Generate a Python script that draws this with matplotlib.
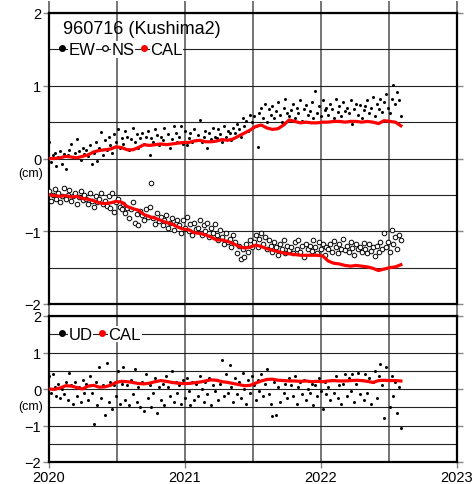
import numpy as np
import matplotlib

matplotlib.use("Agg")
from matplotlib import pyplot as plt
from matplotlib.lines import Line2D

plt.rcParams["font.family"] = ["Liberation Sans", "DejaVu Sans"]

station = "960716 (Kushima2)"

# daily solutions thinned to one every 5 days, CAL curve every 15 days
obs_step_days = 5
cal_step_days = 15

ew = [
    0.22, -0.05, 0.05, 0.08, -0.10, 0.02, 0.10, -0.08, 0.06, -0.15,
    0.05, 0.12, 0.20, 0.02, 0.08, 0.27, 0.10, -0.02, 0.15, 0.06,
    0.12, 0.03, 0.18, -0.07, 0.08, 0.22, -0.03, 0.15, 0.37, 0.05,
    0.25, 0.12, 0.30, 0.18, 0.08, 0.33, 0.22, 0.40, 0.15, 0.28,
    0.20, 0.38, 0.30, 0.12, 0.27, 0.42, 0.22, 0.33, 0.15, 0.28,
    0.35, 0.20, 0.30, 0.38, 0.05, 0.28, 0.22, 0.40, 0.32, 0.18,
    0.30, 0.25, 0.42, 0.20, 0.33, 0.15, 0.27, 0.45, 0.35, 0.22,
    0.30, 0.45, 0.20, 0.38, 0.18, 0.28, 0.35, 0.23, 0.40, 0.25,
    0.32, 0.53, 0.22, 0.30, 0.38, 0.15, 0.35, 0.27, 0.42, 0.30,
    0.28, 0.40, 0.33, 0.22, 0.45, 0.30, 0.38, 0.35, 0.25, 0.42,
    0.35, 0.48, 0.40, 0.30, 0.55, 0.45, 0.52, 0.38, 0.60, 0.50,
    0.58, 0.45, 0.16, 0.62, 0.70, 0.55, 0.75, 0.50, 0.68, 0.60,
    0.72, 0.55, 0.65, 0.78, 0.60, 0.50, 0.70, 0.82, 0.62, 0.58,
    0.66, 0.75, 0.55, 0.70, 0.62, 0.80, 0.52, 0.68, 0.73, 0.60,
    0.65, 0.78, 0.55, 0.93, 0.62, 0.72, 0.58, 0.80, 0.66, 0.70,
    0.60, 0.75, 0.68, 0.55, 0.82, 0.64, 0.72, 0.58, 0.78, 0.65,
    0.70, 0.62, 0.80, 0.47, 0.68, 0.75, 0.60, 0.73, 0.56, 0.66,
    0.72, 0.80, 0.62, 0.70, 0.85, 0.58, 0.75, 0.68, 0.82, 0.64,
    0.78, 0.88, 0.70, 0.62, 0.82, 1.01, 0.75, 0.92, 0.80, 0.58,
]

ns = [
    -0.45, -0.58, -0.50, -0.42, -0.55, -0.48, -0.60, -0.52, -0.40, -0.56,
    -0.50, -0.43, -0.58, -0.52, -0.47, -0.62, -0.53, -0.45, -0.57, -0.50,
    -0.55, -0.63, -0.48, -0.58, -0.66, -0.52, -0.60, -0.55, -0.47, -0.62,
    -0.58, -0.65, -0.52, -0.68, -0.48, -0.73, -0.60, -0.55, -0.66, -0.70,
    -0.62, -0.75, -0.68, -0.82, -0.70, -0.60, -0.88, -0.76, -0.92, -0.72,
    -0.78, -0.85, -0.70, -0.80, -0.66, -0.34, -0.82, -0.90, -0.75, -0.86,
    -0.80, -0.92, -0.85, -0.78, -0.95, -0.88, -0.82, -0.98, -0.90, -0.84,
    -0.92, -1.02, -0.85, -0.95, -0.80, -1.00, -0.90, -1.05, -0.88, -0.97,
    -0.95, -0.85, -1.05, -0.92, -1.00, -0.88, -1.08, -0.96, -1.02, -0.90,
    -1.05, -1.12, -0.98, -1.08, -1.18, -1.02, -1.15, -1.10, -1.22, -1.05,
    -1.15, -1.30, -1.20, -1.38, -1.25, -1.35, -1.18, -1.28, -1.12, -1.22,
    -1.15, -1.05, -1.22, -1.10, -1.02, -1.18, -1.08, -1.25, -1.12, -1.20,
    -1.28, -1.15, -1.22, -1.32, -1.18, -1.25, -1.12, -1.30, -1.20, -1.26,
    -1.22, -1.30, -1.15, -1.25, -1.12, -1.28, -1.20, -1.35, -1.18, -1.24,
    -1.20, -1.27, -1.12, -1.22, -1.30, -1.15, -1.25, -1.18, -1.32, -1.21,
    -1.25, -1.18, -1.28, -1.14, -1.22, -1.30, -1.17, -1.24, -1.10, -1.26,
    -1.20, -1.28, -1.15, -1.23, -1.32, -1.18, -1.25, -1.21, -1.29, -1.16,
    -1.24, -1.30, -1.18, -1.27, -1.22, -1.34, -1.20, -1.28, -1.15, -1.25,
    -1.02, -1.22, -1.15, -1.28, -0.98, -1.18, -1.08, -1.25, -1.05, -1.12,
]

ud = [
    0.35, -0.10, 0.40, 0.05, -0.20, 0.15, -0.25, 0.00, -0.15, 0.20,
    -0.30, 0.45, 0.10, -0.40, 0.20, -0.20, 0.05, -0.35, 0.25, -0.10,
    0.15, -0.30, 0.35, -0.10, -0.95, 0.20, -0.45, 0.60, -0.25, 0.10,
    -0.70, 0.70, -0.35, 0.20, -0.55, 0.10, -0.20, 0.50, -0.40, 0.15,
    0.60, -0.30, 0.10, -0.45, 0.25, -0.15, 0.55, -0.35, 0.05, -0.50,
    0.20, -0.60, 0.40, -0.25, 0.10, -0.50, -0.10, 0.30, -0.65, 0.05,
    -0.30, 0.15, -0.45, 0.35, 0.05, -0.20, 0.50, -0.35, 0.20, -0.10,
    0.10, -0.40, 0.25, -0.25, 0.30, -0.05, -0.45, 0.20, -0.30, 0.15,
    -0.20, 0.35, 0.00, -0.35, 0.20, -0.15, 0.30, -0.45, 0.10, -0.05,
    0.25, -0.30, 0.15, 0.80, -0.20, 0.40, -0.10, 0.65, 0.05, -0.35,
    0.30, -0.15, 0.20, -0.25, 0.45, 0.00, -0.40, 0.25, -0.10, 0.35,
    0.10, -0.30, 0.25, -0.05, 0.40, -0.20, 0.15, 0.55, -0.15, -0.40,
    -0.75, 0.20, -0.70, 0.05, -0.35, 0.25, -0.10, 0.15, -0.25, 0.30,
    0.10, -0.20, 0.35, -0.40, 0.05, 0.20, -0.15, 0.25, -0.30, 0.00,
    -0.10, 0.15, -0.45, 0.10, -0.20, 0.30, -0.05, -0.55, 0.20, -0.15,
    0.05, -0.30, 0.25, -0.10, 0.35, -0.25, 0.10, -0.40, 0.15, 0.40,
    -0.20, 0.30, -0.05, 0.40, -0.35, 0.15, 0.45, -0.15, 0.25, -0.30,
    0.40, -0.10, 0.30, -0.40, 0.20, 0.50, -0.25, 0.35, 0.68, 0.10,
    -0.80, 0.60, 0.25, -0.50, 0.35, -0.20, 0.20, -0.65, 0.05, -1.07,
]

cal_ew = [
    0.00, 0.00, 0.01, 0.03, 0.02, 0.01, 0.03, 0.05, 0.09, 0.11,
    0.12, 0.13, 0.16, 0.15, 0.12, 0.12, 0.15, 0.19, 0.18, 0.19,
    0.20, 0.19, 0.20, 0.21, 0.22, 0.22, 0.24, 0.25, 0.23, 0.23,
    0.24, 0.26, 0.25, 0.27, 0.31, 0.35, 0.39, 0.44, 0.46, 0.42,
    0.40, 0.41, 0.46, 0.53, 0.51, 0.49, 0.50, 0.49, 0.49, 0.50,
    0.50, 0.51, 0.51, 0.50, 0.51, 0.51, 0.50, 0.51, 0.50, 0.48,
    0.52, 0.51, 0.50, 0.45,
]

cal_ns = [
    -0.50, -0.51, -0.52, -0.51, -0.53, -0.52, -0.55, -0.56, -0.58, -0.61,
    -0.62, -0.61, -0.59, -0.60, -0.66, -0.69, -0.71, -0.77, -0.80, -0.82,
    -0.85, -0.88, -0.90, -0.94, -0.97, -0.98, -1.02, -1.03, -1.05, -1.08,
    -1.12, -1.12, -1.14, -1.17, -1.21, -1.23, -1.22, -1.19, -1.21, -1.24,
    -1.26, -1.28, -1.30, -1.31, -1.32, -1.33, -1.33, -1.33, -1.33, -1.34,
    -1.41, -1.44, -1.45, -1.47, -1.48, -1.47, -1.48, -1.49, -1.51, -1.54,
    -1.52, -1.50, -1.49, -1.46,
]

cal_ud = [
    0.00, -0.01, 0.03, 0.09, 0.08, 0.04, 0.00, 0.08, 0.10, 0.05,
    0.06, 0.10, 0.18, 0.21, 0.20, 0.18, 0.15, 0.14, 0.16, 0.20,
    0.23, 0.21, 0.18, 0.16, 0.15, 0.15, 0.17, 0.19, 0.22, 0.25,
    0.24, 0.20, 0.18, 0.15, 0.12, 0.09, 0.10, 0.16, 0.22, 0.26,
    0.27, 0.24, 0.23, 0.22, 0.22, 0.21, 0.22, 0.20, 0.21, 0.20,
    0.22, 0.23, 0.22, 0.22, 0.23, 0.24, 0.23, 0.21, 0.18, 0.23,
    0.24, 0.23, 0.23, 0.22,
]

t_obs = 2020.0 + np.arange(len(ew)) * obs_step_days / 365.25
t_cal = 2020.0 + np.arange(len(cal_ew)) * cal_step_days / 365.25

W, H = 473, 485
fig = plt.figure(figsize=(W / 100, H / 100), dpi=100)
x0, x1 = 49 / W, 457 / W
ax1 = fig.add_axes([x0, 1 - 305 / H, x1 - x0, (305 - 14) / H])
ax2 = fig.add_axes([x0, 1 - 463 / H, x1 - x0, (463 - 317) / H])

TICK_FS = 10.5
GRID_H = "#222222"
GRID_V = "#6a6a6a"
TICK_C = "#888888"


def frame(ax, label_x):
    ax.set_xlim(2020, 2023)
    ax.set_ylim(-2, 2)
    ax.set_xticks([2020, 2021, 2022, 2023])
    ax.set_xticks([2020.5, 2021.5, 2022.5], minor=True)
    ax.set_yticks([-2, -1, 0, 1, 2])
    ax.set_yticks([-1.5, -0.5, 0.5, 1.5], minor=True)
    ax.set_axisbelow(True)
    ax.grid(axis="y", which="both", color=GRID_H, linewidth=0.8)
    ax.grid(axis="x", which="both", color=GRID_V, linewidth=1.3)
    for s in ax.spines.values():
        s.set_linewidth(1.6)
    ax.tick_params(axis="y", which="major", direction="out", length=4, width=1,
                   color=TICK_C, left=True, right=True, labelsize=TICK_FS, pad=1.5)
    ax.tick_params(axis="y", which="minor", length=0)
    ax.tick_params(axis="x", which="major", direction="out", length=4, width=1,
                   color=TICK_C, labelsize=TICK_FS, pad=1.5, labelbottom=label_x)
    ax.tick_params(axis="x", which="minor", length=0)
    ax.text(-0.046, -0.2 if not label_x else -0.46, "(cm)", transform=ax.get_yaxis_transform(),
            ha="center", va="center", fontsize=9)


frame(ax1, False)
frame(ax2, True)
# bridge the gap between the two panels with the vertical grid lines
ax1.tick_params(axis="x", which="both", bottom=True, top=True, direction="out",
                length=9, width=1.3, color=GRID_V)
ax1.tick_params(axis="x", which="both", top=True, bottom=False)
ax1.tick_params(axis="x", which="both", top=True, length=2.5)
ax1.tick_params(axis="x", which="both", bottom=True, length=9)

ax1.plot(t_obs, ew, "o", color="black", markersize=2.2, markeredgewidth=0, zorder=3)
ax1.plot(t_obs, ns, "o", markerfacecolor="white", markeredgecolor="black",
         markersize=3.3, markeredgewidth=0.7, zorder=3)
ax1.plot(t_cal, cal_ew, color="red", linewidth=2.3, zorder=4)
ax1.plot(t_cal, cal_ns, color="red", linewidth=2.3, zorder=4)

ax2.plot(t_obs, ud, "o", color="black", markersize=2.2, markeredgewidth=0, zorder=3)
ax2.plot(t_cal, cal_ud, color="red", linewidth=2.3, zorder=4)

ax1.text(0.034, 0.948, station, transform=ax1.transAxes, fontsize=13,
         ha="left", va="center")

dot = dict(linestyle="none", marker="o", markersize=4)
h_ew = Line2D([], [], color="black", **dot)
h_ns = Line2D([], [], markerfacecolor="white", markeredgecolor="black",
              markeredgewidth=0.9, **dot)
h_cal = Line2D([], [], color="red", **dot)


def legend(ax, handles, labels):
    leg = ax.legend(handles, labels, loc="center left", bbox_to_anchor=(0.0196, 1.5),
                    bbox_transform=ax.get_yaxis_transform(), ncol=len(labels),
                    frameon=False, fontsize=12, handlelength=0.6, handletextpad=0.1,
                    columnspacing=0.25, borderpad=0, borderaxespad=0)
    for t in leg.get_texts():
        t.set_bbox(dict(facecolor="white", edgecolor="none", pad=0.5))


legend(ax1, [h_ew, h_ns, h_cal], ["EW", "NS", "CAL"])
legend(ax2, [h_ew, h_cal], ["UD", "CAL"])

fig.savefig("out.png", dpi=100)
